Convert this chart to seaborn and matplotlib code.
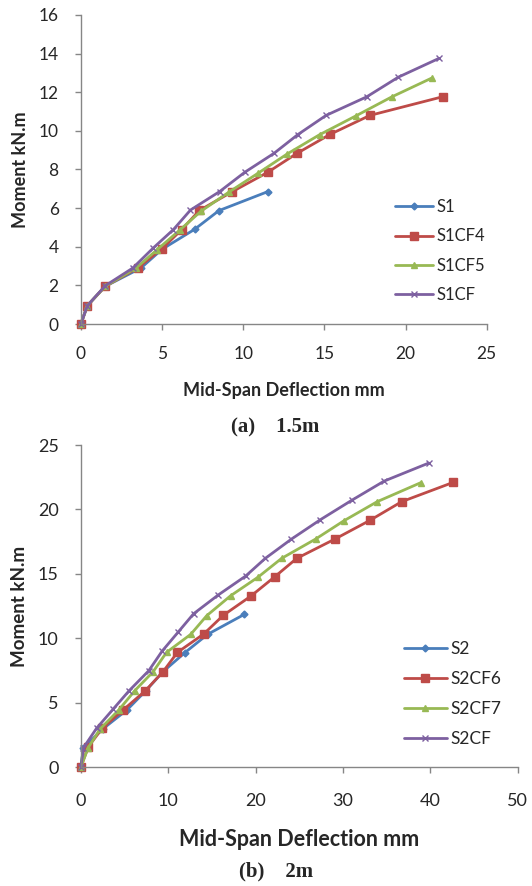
import matplotlib
matplotlib.use("Agg")
import matplotlib.pyplot as plt
import seaborn as sns

# ---- data ----
# (a) 1.5 m beams
s1_x = [0, 0.4, 1.5, 3.7, 5.0, 7.0, 8.5, 11.5]
s1_y = [0, 0.95, 1.95, 2.9, 3.87, 4.9, 5.87, 6.85]

s1cf4_x = [0, 0.4, 1.5, 3.5, 5.0, 6.2, 7.3, 9.3, 11.5, 13.3, 15.35, 17.8, 22.3]
s1cf4_y = [0, 0.95, 1.95, 2.9, 3.9, 4.88, 5.88, 6.84, 7.85, 8.83, 9.82, 10.8, 11.77]

s1cf5_x = [0, 0.4, 1.5, 3.4, 4.7, 6.1, 7.4, 9.1, 10.9, 12.7, 14.7, 16.95, 19.15, 21.6]
s1cf5_y = [0, 0.95, 1.95, 2.9, 3.85, 4.87, 5.84, 6.82, 7.8, 8.8, 9.8, 10.78, 11.76, 12.73]

s1cf_x = [0, 0.4, 1.5, 3.2, 4.45, 5.7, 6.75, 8.55, 10.1, 11.9, 13.35, 15.1, 17.6, 19.55, 22.05]
s1cf_y = [0, 0.95, 1.98, 2.9, 3.93, 4.89, 5.9, 6.86, 7.86, 8.84, 9.8, 10.8, 11.76, 12.78, 13.75]

# (b) 2 m beams
s2_x = [0, 0.3, 2.5, 5.3, 7.4, 9.4, 11.9, 14.5, 18.7]
s2_y = [0, 1.5, 2.95, 4.45, 5.9, 7.4, 8.88, 10.3, 11.85]

s2cf6_x = [0, 0.84, 2.43, 4.84, 7.39, 9.4, 11.05, 14.06, 16.3, 19.47, 22.2, 24.7, 29.07, 33.07, 36.7, 42.6]
s2cf6_y = [0, 1.55, 3.0, 4.43, 5.93, 7.4, 8.9, 10.33, 11.78, 13.28, 14.78, 16.2, 17.7, 19.15, 20.6, 22.1]

s2cf7_x = [0, 0.84, 2.2, 4.34, 6.17, 8.27, 9.8, 12.57, 14.4, 17.14, 20.27, 22.97, 26.86, 30.1, 33.9, 38.9]
s2cf7_y = [0, 1.5, 2.95, 4.43, 5.93, 7.4, 8.9, 10.3, 11.75, 13.3, 14.74, 16.2, 17.7, 19.12, 20.6, 22.08]

s2cf_x = [0, 0.3, 1.79, 3.7, 5.49, 7.77, 9.3, 11.1, 12.9, 15.7, 18.86, 21.1, 24.1, 27.4, 30.97, 34.7, 39.8]
s2cf_y = [0, 1.5, 3.0, 4.5, 5.9, 7.48, 9.0, 10.45, 11.9, 13.35, 14.83, 16.2, 17.7, 19.2, 20.7, 22.2, 23.6]

labels_a = ["S1", "S1CF4", "S1CF5", "S1CF"]
labels_b = ["S2", "S2CF6", "S2CF7", "S2CF"]

colors = ["#4A7EBB", "#BE4B48", "#98B954", "#7D60A0"]
markers = ["D", "s", "^", "x"]
msizes = [3.5, 5.5, 5, 5]

sns.set_style("ticks")
plt.rcParams["font.family"] = ["Lato", "DejaVu Sans"]

fig = plt.figure(figsize=(5.32, 8.86), dpi=100)
ax1 = fig.add_axes([0.152, 0.6343, 0.763, 0.3488])
ax2 = fig.add_axes([0.152, 0.1343, 0.8214, 0.3634])


def draw(ax, series, labels):
    for (x, y), lab, c, m, ms in zip(series, labels, colors, markers, msizes):
        sns.lineplot(x=x, y=y, ax=ax, sort=False, color=c, marker=m,
                     markersize=ms, markeredgecolor=c, markeredgewidth=1,
                     linewidth=2, label=lab, clip_on=False)


draw(ax1, [(s1_x, s1_y), (s1cf4_x, s1cf4_y), (s1cf5_x, s1cf5_y), (s1cf_x, s1cf_y)], labels_a)
draw(ax2, [(s2_x, s2_y), (s2cf6_x, s2cf6_y), (s2cf7_x, s2cf7_y), (s2cf_x, s2cf_y)], labels_b)

ax1.set_xlim(0, 25)
ax1.set_ylim(0, 16)
ax1.set_xticks(range(0, 26, 5))
ax1.set_yticks(range(0, 17, 2))
ax2.set_xlim(0, 50)
ax2.set_ylim(0, 25)
ax2.set_xticks(range(0, 51, 10))
ax2.set_yticks(range(0, 26, 5))

for ax, fs, xpad in [(ax1, 12.5, 12), (ax2, 13, 15)]:
    sns.despine(ax=ax)
    for sp in ["left", "bottom"]:
        ax.spines[sp].set_color("#868686")
        ax.spines[sp].set_linewidth(1)
    ax.tick_params(axis="both", colors="#868686", labelcolor="#262626",
                   labelsize=fs, length=4, width=1)
    ax.tick_params(axis="x", pad=xpad)
    ax.tick_params(axis="y", pad=12)
    ax.margins(0)

ax1.set_xlabel("Mid-Span Deflection mm", fontsize=13, fontweight="bold", labelpad=14)
ax1.set_ylabel("Moment kN.m", fontsize=13, fontweight="bold", labelpad=7)
ax2.set_xlabel("Mid-Span Deflection mm", fontsize=15.5, fontweight="bold", labelpad=14)
ax2.set_ylabel("Moment kN.m", fontsize=13.5, fontweight="bold", labelpad=7)

ax1.legend(loc="center left", bbox_to_anchor=(0.773, 0.236), frameon=False,
           borderpad=0, borderaxespad=0, fontsize=12, handlelength=2.3,
           handletextpad=0.2, labelspacing=0.8)
ax2.legend(loc="center left", bbox_to_anchor=(0.739, 0.227), frameon=False,
           borderpad=0, borderaxespad=0, fontsize=12.5, handlelength=2.5,
           handletextpad=0.2, labelspacing=0.8)

fig.text(0.517, 1 - 427 / 886, "(a)    1.5m", ha="center", va="center",
         fontsize=15, fontweight="bold", family=["Liberation Serif", "DejaVu Serif"])
fig.text(0.519, 1 - 871 / 886, "(b)    2m", ha="center", va="center",
         fontsize=15, fontweight="bold", family=["Liberation Serif", "DejaVu Serif"])

fig.savefig("out.png", dpi=100)
